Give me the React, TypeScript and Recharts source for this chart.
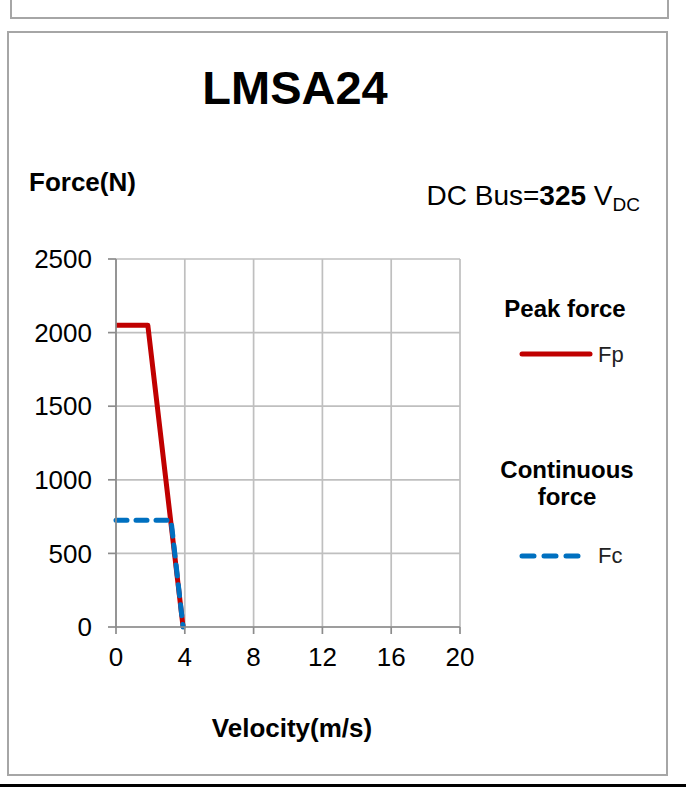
import { LineChart, Line, XAxis, YAxis, CartesianGrid, Legend } from 'recharts';

// velocity (m/s) vs force (N)
const peakVelocity = [0, 1.85, 3.9];
const peakForce = [2050, 2050, 0];
const contVelocity = [0, 3.2, 3.9];
const contForce = [725, 725, 0];

const xTicks = [0, 4, 8, 12, 16, 20];
const yTicks = [0, 500, 1000, 1500, 2000, 2500];

const fpData = peakVelocity.map((v, i) => ({ v, f: peakForce[i] }));
const fcData = contVelocity.map((v, i) => ({ v, f: contForce[i] }));

const FONT = '"Liberation Sans", Arial, sans-serif';
const RED = '#c00000';
const BLUE = '#0070c0';

function ForceLegend() {
  return (
    <svg width={200} height={300} style={{ fontFamily: FONT, overflow: 'visible' }}>
      {/* local coords: origin at (470, 290) */}
      <text x={95} y={27} textAnchor="middle" fontSize={24} fontWeight="bold" fill="#000">Peak force</text>
      <line x1={52} y1={64} x2={120} y2={64} stroke={RED} strokeWidth={5} strokeLinecap="round" />
      <text x={128} y={72} fontSize={22} fill="#222">Fp</text>
      <text x={97} y={188} textAnchor="middle" fontSize={24} fontWeight="bold" fill="#000">Continuous</text>
      <text x={97} y={215} textAnchor="middle" fontSize={24} fontWeight="bold" fill="#000">force</text>
      <line x1={52} y1={266} x2={110} y2={266} stroke={BLUE} strokeWidth={5} strokeLinecap="round" strokeDasharray="12 10" />
      <text x={128} y={273} fontSize={22} fill="#222">Fc</text>
    </svg>
  );
}

export default function App() {
  return (
    <div style={{ position: 'absolute', left: 0, top: 0, width: 686, height: 789, background: '#fff', fontFamily: FONT }}>
      <svg width={686} height={789} style={{ position: 'absolute', left: 0, top: 0 }}>
        <rect x={11} y={-10} width={657} height={28} fill="none" stroke="#a6a6a6" strokeWidth={2} />
        <rect x={8} y={32} width={659} height={743} fill="none" stroke="#a6a6a6" strokeWidth={2} />
        <rect x={0} y={784} width={686} height={3} fill="#000" />
        <text x={295} y={104} textAnchor="middle" fontSize={47} fontWeight="bold" fill="#000" fontFamily={FONT}>LMSA24</text>
        <text x={29} y={191} fontSize={26} fontWeight="bold" fill="#000" fontFamily={FONT}>Force(N)</text>
        <text x={640} y={205} textAnchor="end" fontSize={28} fill="#000" fontFamily={FONT}>
          DC Bus=<tspan fontWeight="bold">325</tspan> V<tspan fontSize={19} dy={6}>DC</tspan>
        </text>
        <text x={292} y={737} textAnchor="middle" fontSize={26} fontWeight="bold" fill="#000" fontFamily={FONT}>Velocity(m/s)</text>
      </svg>
      <div style={{ position: 'absolute', left: 0, top: 0 }}>
        <LineChart width={686} height={789} margin={{ top: 259, right: 226, bottom: 112, left: 36 }}>
          <CartesianGrid stroke="#bfbfbf" strokeWidth={1.7} horizontalValues={yTicks} verticalValues={xTicks} />
          <XAxis
            dataKey="v"
            type="number"
            domain={[0, 20]}
            ticks={xTicks}
            height={50}
            allowDuplicatedCategory={false}
            axisLine={{ stroke: '#8c8c8c', strokeWidth: 1.7 }}
            tickLine={{ stroke: '#8c8c8c', strokeWidth: 1.7 }}
            tickSize={7}
            tickMargin={14}
            tick={{ fill: '#000', fontSize: 26, fontFamily: FONT }}
          />
          <YAxis
            dataKey="f"
            type="number"
            domain={[0, 2500]}
            ticks={yTicks}
            width={80}
            axisLine={{ stroke: '#8c8c8c', strokeWidth: 1.7 }}
            tickLine={{ stroke: '#8c8c8c', strokeWidth: 1.7 }}
            tickSize={8}
            tickMargin={16}
            tick={{ fill: '#000', fontSize: 26, fontFamily: FONT }}
          />
          <Legend
            layout="horizontal"
            align="center"
            verticalAlign="middle"
            content={() => <ForceLegend />}
            wrapperStyle={{ position: 'absolute', left: 470, top: 290, width: 200, height: 300 }}
          />
          <Line
            data={fpData}
            dataKey="f"
            name="Fp"
            type="linear"
            stroke={RED}
            strokeWidth={5}
            strokeLinejoin="round"
            dot={false}
            isAnimationActive={false}
          />
          <Line
            data={fcData}
            dataKey="f"
            name="Fc"
            type="linear"
            stroke={BLUE}
            strokeWidth={5}
            strokeDasharray="11 9"
            strokeLinecap="round"
            strokeLinejoin="round"
            dot={false}
            isAnimationActive={false}
          />
        </LineChart>
      </div>
    </div>
  );
}
